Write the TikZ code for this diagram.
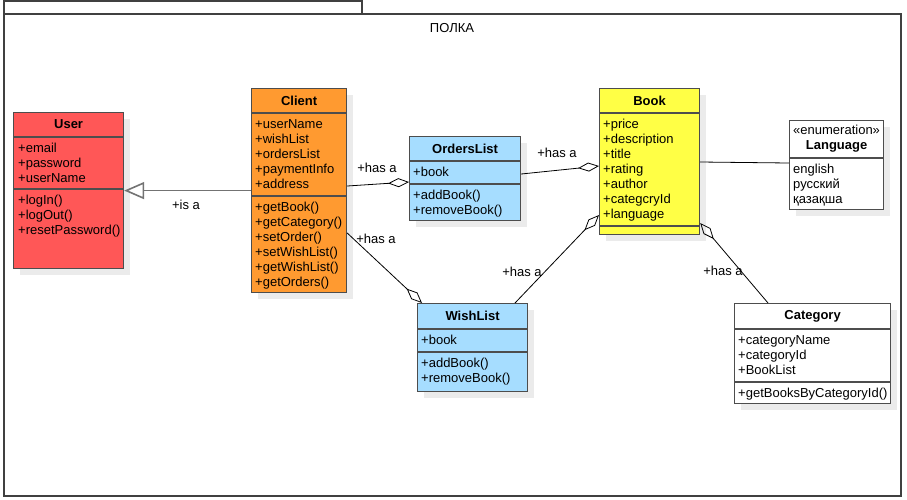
\documentclass[tikz,border=0pt]{standalone}
\usepackage{fontspec}
\setmainfont{Liberation Sans}
\usetikzlibrary{arrows.meta,shadows}

\definecolor{userred}{HTML}{FF5757}
\definecolor{clientorange}{HTML}{FF9A30}
\definecolor{listblue}{HTML}{A6DDFF}
\definecolor{bookyellow}{HTML}{FFFF45}
\definecolor{boxline}{HTML}{4D4D4D}

\tikzset{
  classbox/.style={draw=boxline, line width=1.2pt, anchor=north west, inner sep=0pt,
    drop shadow={fill=black!8, opacity=1, shadow xshift=6pt, shadow yshift=-6pt}},
  sepline/.style={draw=boxline, line width=1.2pt},
  classname/.style={font=\fontsize{13}{15}\selectfont\bfseries, inner sep=0pt, align=center},
  members/.style={font=\fontsize{13}{15}\selectfont, align=left, anchor=north west, inner sep=0pt},
  isa/.style={draw=black!55, line width=1.6pt, -{Triangle[open, length=20pt, width=17pt]}},
  hasa/.style={draw=black, line width=0.8pt, -{Diamond[open, length=21pt, width=9pt]}},
  linklabel/.style={font=\fontsize{13}{15}\selectfont, inner sep=0pt},
  frameline/.style={draw=black!75, line width=1.3pt},
}

\begin{document}
\begin{tikzpicture}[x=1pt, y=-1pt]
  \useasboundingbox (0,0) rectangle (907,499);

  % Marco (paquete)
  \draw[frameline] (4,1) rectangle (362,14);
  \draw[frameline] (4,14) rectangle (901,496);
  \node[linklabel] (title) at (452,28) {ПОЛКА};

  % User
  \node[classbox, fill=userred, minimum width=110pt, minimum height=156pt] (user) at (13,112) {};
  \draw[sepline] ([yshift=-25pt]user.north west) -- ([yshift=-25pt]user.north east);
  \draw[sepline] ([yshift=-77pt]user.north west) -- ([yshift=-77pt]user.north east);
  \node[classname] (user-name) at ([yshift=-12.5pt]user.north) {User};
  \node[members] (user-attr) at ([xshift=5pt, yshift=-31pt]user.north west) {+email\\+password\\+userName};
  \node[members] (user-ops) at ([xshift=5pt, yshift=-83pt]user.north west) {+logIn()\\+logOut()\\+resetPassword()};

  % Client
  \node[classbox, fill=clientorange, minimum width=95pt, minimum height=204pt] (client) at (251,88) {};
  \draw[sepline] ([yshift=-25pt]client.north west) -- ([yshift=-25pt]client.north east);
  \draw[sepline] ([yshift=-108pt]client.north west) -- ([yshift=-108pt]client.north east);
  \node[classname] (client-name) at ([yshift=-12.5pt]client.north) {Client};
  \node[members] (client-attr) at ([xshift=4pt, yshift=-31pt]client.north west) {+userName\\+wishList\\+ordersList\\+paymentInfo\\+address};
  \node[members] (client-ops) at ([xshift=4pt, yshift=-114pt]client.north west) {+getBook()\\+getCategory()\\+setOrder()\\+setWishList()\\+getWishList()\\+getOrders()};

  % OrdersList
  \node[classbox, fill=listblue, minimum width=111pt, minimum height=84pt] (orders) at (409,136) {};
  \draw[sepline] ([yshift=-25pt]orders.north west) -- ([yshift=-25pt]orders.north east);
  \draw[sepline] ([yshift=-48pt]orders.north west) -- ([yshift=-48pt]orders.north east);
  \node[classname] (orders-name) at ([yshift=-12.5pt]orders.north) {OrdersList};
  \node[members] (orders-attr) at ([xshift=4pt, yshift=-31pt]orders.north west) {+book};
  \node[members] (orders-ops) at ([xshift=4pt, yshift=-54pt]orders.north west) {+addBook()\\+removeBook()};

  % Book
  \node[classbox, fill=bookyellow, minimum width=100pt, minimum height=146pt] (book) at (599,88) {};
  \draw[sepline] ([yshift=-25pt]book.north west) -- ([yshift=-25pt]book.north east);
  \draw[sepline] ([yshift=-138pt]book.north west) -- ([yshift=-138pt]book.north east);
  \node[classname] (book-name) at ([yshift=-12.5pt]book.north) {Book};
  \node[members] (book-attr) at ([xshift=4pt, yshift=-31pt]book.north west) {+price\\+description\\+title\\+rating\\+author\\+categcryId\\+language};

  % Language
  \node[classbox, fill=white, minimum width=94pt, minimum height=89pt] (language) at (789,120) {};
  \draw[sepline] ([yshift=-38pt]language.north west) -- ([yshift=-38pt]language.north east);
  \node[classname] (language-name) at ([yshift=-19pt]language.north) {\mdseries «enumeration»\\Language};
  \node[members] (language-vals) at ([xshift=4pt, yshift=-44pt]language.north west) {english\\русский\\қазақша};

  % WishList
  \node[classbox, fill=listblue, minimum width=110pt, minimum height=88pt] (wish) at (417,303) {};
  \draw[sepline] ([yshift=-26pt]wish.north west) -- ([yshift=-26pt]wish.north east);
  \draw[sepline] ([yshift=-49pt]wish.north west) -- ([yshift=-49pt]wish.north east);
  \node[classname] (wish-name) at ([yshift=-13pt]wish.north) {WishList};
  \node[members] (wish-attr) at ([xshift=4pt, yshift=-32pt]wish.north west) {+book};
  \node[members] (wish-ops) at ([xshift=4pt, yshift=-55pt]wish.north west) {+addBook()\\+removeBook()};

  % Category
  \node[classbox, fill=white, minimum width=156pt, minimum height=100pt] (category) at (734,303) {};
  \draw[sepline] ([yshift=-26pt]category.north west) -- ([yshift=-26pt]category.north east);
  \draw[sepline] ([yshift=-79pt]category.north west) -- ([yshift=-79pt]category.north east);
  \node[classname] (category-name) at ([yshift=-13pt]category.north) {Category};
  \node[members] (category-attr) at ([xshift=4pt, yshift=-32pt]category.north west) {+categoryName\\+categoryId\\+BookList};
  \node[members] (category-ops) at ([xshift=4pt, yshift=-85pt]category.north west) {+getBooksByCategoryId()};

  % Relaciones
  \draw[isa] (client.west) -- (user.east);
  \draw[hasa] ([yshift=-98pt]client.north east) -- ([yshift=-46pt]orders.north west);
  \draw[hasa] ([yshift=-38pt]orders.north east) -- ([yshift=-78pt]book.north west);
  \draw[hasa] ([yshift=-145pt]client.north east) -- ([xshift=5pt]wish.north west);
  \draw[hasa] ([xshift=98pt]wish.north west) -- ([yshift=-127pt]book.north west);
  \draw[hasa] ([xshift=34pt]category.north west) -- ([yshift=-135pt]book.north east);
  \draw[line width=0.8pt] ([yshift=-74pt]book.north east) -- ([yshift=-43pt]language.north west);

  % Etiquetas
  \node[linklabel] (isa-label) at (186,205) {+is a};
  \node[linklabel] (hasa-orders) at (377,168) {+has a};
  \node[linklabel] (hasa-book) at (557,153) {+has a};
  \node[linklabel] (hasa-wish) at (376,239) {+has a};
  \node[linklabel] (hasa-wishbook) at (522,272) {+has a};
  \node[linklabel] (hasa-category) at (723,271) {+has a};
\end{tikzpicture}
\end{document}
